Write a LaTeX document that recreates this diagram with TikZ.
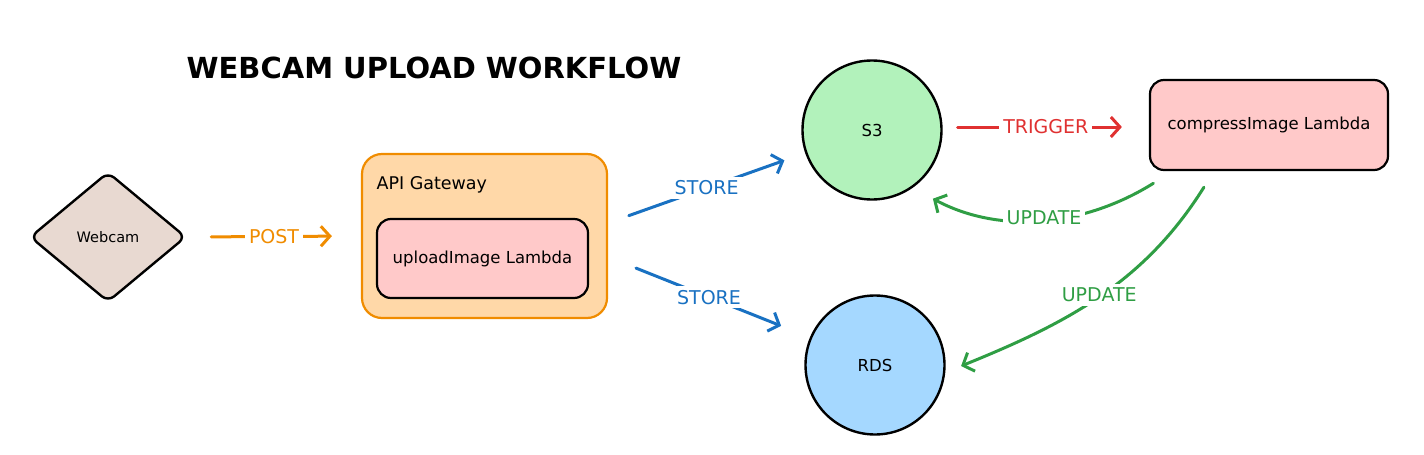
\documentclass[tikz,border=0pt]{standalone}
\usepackage{fontspec}
\setmainfont{DejaVu Sans}
\usetikzlibrary{arrows.meta,shapes.geometric}

\definecolor{camfill}{HTML}{E8D9D1}
\definecolor{gwfill}{HTML}{FFD8A8}
\definecolor{gwline}{HTML}{F08C00}
\definecolor{lamfill}{HTML}{FFC9C9}
\definecolor{s3fill}{HTML}{B2F2BB}
\definecolor{rdsfill}{HTML}{A5D8FF}
\definecolor{storeblue}{HTML}{1971C2}
\definecolor{trigred}{HTML}{E03131}
\definecolor{updgreen}{HTML}{2F9E44}

\begin{document}
\begin{tikzpicture}[x=1pt,y=1pt,
  txt/.style={font=\fontsize{16.5}{18}\selectfont},
  box/.style={txt,draw=black,line width=2.2pt,rounded corners=14pt,fill=lamfill},
  db/.style={txt,circle,draw=black,line width=2.4pt,minimum size=139pt},
  flow/.style={line width=3pt,line cap=round,-{Straight Barb[length=9pt,width=20pt]}},
  lbl/.style={fill=white,inner sep=4pt,font=\fontsize{19}{21}\selectfont}]
\useasboundingbox (0,0) rectangle (1424,-455);
%\draw[help lines] (0,0) grid[step=50] (1424,-455);

\node[font=\bfseries\fontsize{29}{32}\selectfont] (title) at (434,-68) {WEBCAM UPLOAD WORKFLOW};

\node[diamond,draw,line width=2.4pt,fill=camfill,rounded corners=8pt,minimum width=156pt,minimum height=130pt,font=\fontsize{14.5}{16}\selectfont] (webcam) at (108,-237) {Webcam};
\node[draw=gwline,fill=gwfill,line width=2.2pt,rounded corners=20pt,minimum width=245pt,minimum height=164pt] (api) at (484.5,-236) {};
\node[anchor=west,font=\fontsize{17.5}{19}\selectfont] (gwname) at (373,-185) {API Gateway};
\node[box,minimum width=211pt,minimum height=79pt] (upload) at (482.5,-258.5) {uploadImage Lambda};
\node[db,fill=s3fill] (s3) at (872,-130) {S3};
\node[db,fill=rdsfill] (rds) at (875,-365) {RDS};
\node[box,minimum width=238pt,minimum height=90pt] (compress) at (1269,-125) {compressImage Lambda};

% arrows
\draw[flow,gwline,shorten <=24pt,shorten >=29pt] (webcam.east) -- node[lbl]{POST} (api.west);
\draw[flow,storeblue,shorten <=22pt,shorten >=22pt] ([yshift=13pt]api.east) -- node[lbl]{STORE} (s3.199);
\draw[flow,storeblue,shorten <=30pt,shorten >=31pt] ([yshift=-21pt]api.east) -- node[lbl]{STORE} (rds.157);
\draw[flow,trigred,shorten <=15pt,shorten >=27pt] ([yshift=3pt]s3.east) -- node[lbl]{TRIGGER} ([yshift=-2pt]compress.west);
\draw[flow,updgreen,shorten <=23pt,shorten >=23pt] ([xshift=24pt]compress.south west) to[out=212,in=332] node[lbl]{UPDATE} (s3.-55);
\draw[flow,updgreen,shorten <=19pt,shorten >=17pt] ([xshift=-55pt]compress.south) to[out=238,in=22] node[lbl,pos=0.5]{UPDATE} (rds.-6);
\end{tikzpicture}
\end{document}
